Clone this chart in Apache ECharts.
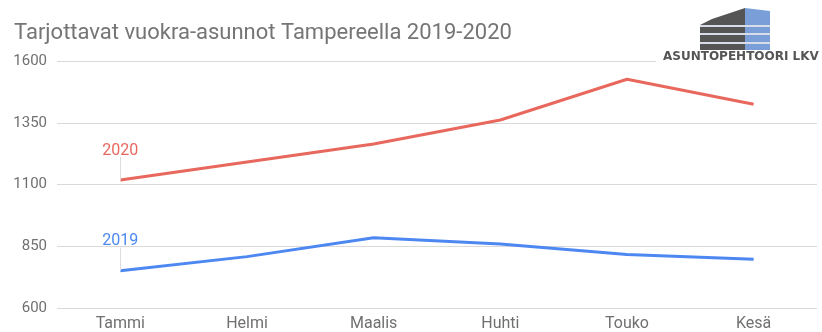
<!DOCTYPE html>
<html><head><meta charset="utf-8">
<script src="https://cdn.jsdelivr.net/npm/echarts@6/dist/echarts.min.js"></script>
<style>html,body{margin:0;padding:0;background:#fff}#c{width:822px;height:332px}</style>
</head><body><div id="c"></div>
<script>
const titleText = 'Tarjottavat vuokra-asunnot Tampereella 2019-2020';
const months = ['Tammi','Helmi','Maalis','Huhti','Touko','Kesä'];
const values2019 = [751, 808, 884, 859, 817, 797];
const values2020 = [1118, 1191, 1264, 1361, 1526, 1425];
const yTicks = [600, 850, 1100, 1350, 1600];
const logoText = 'ASUNTOPEHTOORI LKV';

const RED = '#e8685e', BLUE = '#4d88f2';
const chart = echarts.init(document.getElementById('c'), null, {renderer:'canvas'});

function mkSeries(name, data, color, leaderTop) {
  return {
    name, type:'line', data,
    symbol:'none', showSymbol:false,
    lineStyle:{color, width:3}, itemStyle:{color},
    smooth:false, z:3,
    markPoint:{silent:true, symbol:'circle', symbolSize:1, itemStyle:{color:'rgba(0,0,0,0)'},
      label:{show:true, position:'top', distance:21, color:color, fontSize:16, fontFamily:'Roboto', formatter:name},
      data:[{coord:[0, data[0]], value:data[0]}]},
    markLine:{silent:true, symbol:'none', label:{show:false}, lineStyle:{color:'#dddddd', width:1, type:'solid'},
      data:[[{coord:[0, data[0]]},{coord:[0, leaderTop]}]]}
  };
}

chart.setOption({
  animation:false,
  title:{text:titleText, left:9, top:17, textStyle:{fontFamily:'Roboto', fontSize:22, fontWeight:'normal', color:'#757575'}},
  grid:{left:57, right:5, top:61, bottom:24, containLabel:false},
  xAxis:{type:'category', data:months, boundaryGap:true,
    axisLine:{show:false}, axisTick:{show:false},
    axisLabel:{color:'#707070', fontSize:16, fontFamily:'Roboto', margin:8}},
  yAxis:{type:'value', min:yTicks[0], max:yTicks[yTicks.length-1], interval:250,
    axisLine:{show:false}, axisTick:{show:false},
    splitLine:{lineStyle:{color:'#d9d9d9', width:1}},
    axisLabel:{color:'#707070', fontSize:15, fontFamily:'Roboto', margin:10, formatter:v=>String(v)}},
  series:[
    mkSeries('2019', values2019, BLUE, 845),
    mkSeries('2020', values2020, RED, 1212)
  ],
  graphic:[
    {type:'rect', shape:{x:656, y:50, width:166, height:16}, style:{fill:'#fff'}, z:10},
    {type:'polygon', shape:{points:[[712,19],[745,8],[745,50],[700,50],[700,25]]}, style:{fill:'#555'}, z:10},
    {type:'polygon', shape:{points:[[745,8],[770,11],[770,50],[745,50]]}, style:{fill:'#7a9fd8'}, z:10},
    {type:'rect', shape:{x:700, y:25, width:70, height:2}, style:{fill:'#d6dde8'}, z:11},
    {type:'rect', shape:{x:700, y:33, width:70, height:2}, style:{fill:'#d6dde8'}, z:11},
    {type:'rect', shape:{x:700, y:42, width:70, height:2}, style:{fill:'#d6dde8'}, z:11},
    {type:'text', x:663, y:51, style:{text:logoText, font:'bold 12px "DejaVu Sans", sans-serif', fill:'#555'}, z:12}
  ]
});
</script></body></html>
